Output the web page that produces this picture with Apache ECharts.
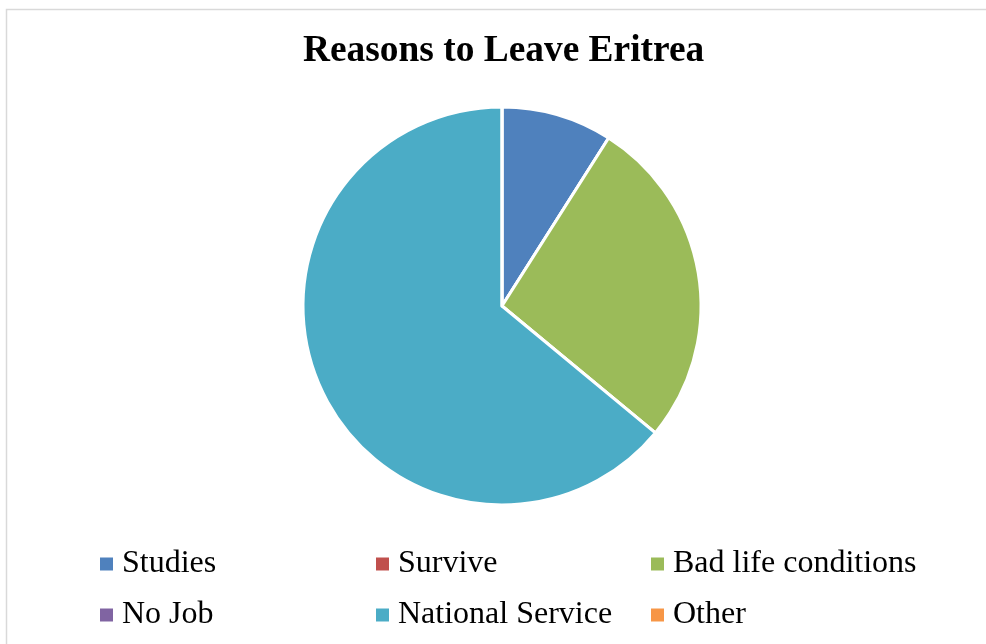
<!DOCTYPE html>
<html>
<head>
<meta charset="utf-8">
<script src="https://cdn.jsdelivr.net/npm/echarts@6/dist/echarts.min.js"></script>
<style>html,body{margin:0;padding:0;background:#fff;}#c{width:986px;height:644px;}</style>
</head>
<body>
<div id="c"></div>
<script>
const categories = ["Studies", "Survive", "Bad life conditions", "No Job", "National Service", "Other"];
const values = [9, 0, 27, 0, 64, 0];
const colors = ["#4f81bd", "#c0504d", "#9bbb59", "#8064a2", "#4bacc6", "#f79646"];
const titleText = "Reasons to Leave Eritrea";

const chart = echarts.init(document.getElementById('c'), null, {renderer: 'canvas'});
const legendText = {fontFamily: 'Liberation Serif', fontSize: 32, lineHeight: 36, color: '#000', padding: [0, 0, 0, 4]};
const colLefts = [100, 376, 651];
const legends = colLefts.map((l, c) => ({
  data: [categories[c], categories[c + 3]],
  orient: 'vertical', left: l, top: 546, padding: 0,
  itemWidth: 13, itemHeight: 13, itemGap: 15, icon: 'rect',
  itemStyle: {borderWidth: 0},
  textStyle: legendText, selectedMode: false
}));
chart.setOption({
  animation: false,
  graphic: [{type: 'rect', shape: {x: 6.5, y: 9.5, width: 1100, height: 800}, style: {fill: 'none', stroke: '#d9d9d9', lineWidth: 1.5}, silent: true}],
  title: {text: titleText, left: 303, top: 33, padding: 0, textStyle: {fontFamily: 'Liberation Serif', fontWeight: 'bold', fontSize: 37.4, color: '#000'}},
  legend: legends,
  series: [{
    type: 'pie',
    center: [502, 306],
    radius: 199,
    startAngle: 90,
    clockwise: true,
    label: {show: false},
    labelLine: {show: false},
    silent: true,
    itemStyle: {borderColor: '#fff', borderWidth: 3},
    data: categories.map((n, i) => ({name: n, value: values[i], itemStyle: {color: colors[i]}}))
  }]
});
</script>
</body>
</html>
